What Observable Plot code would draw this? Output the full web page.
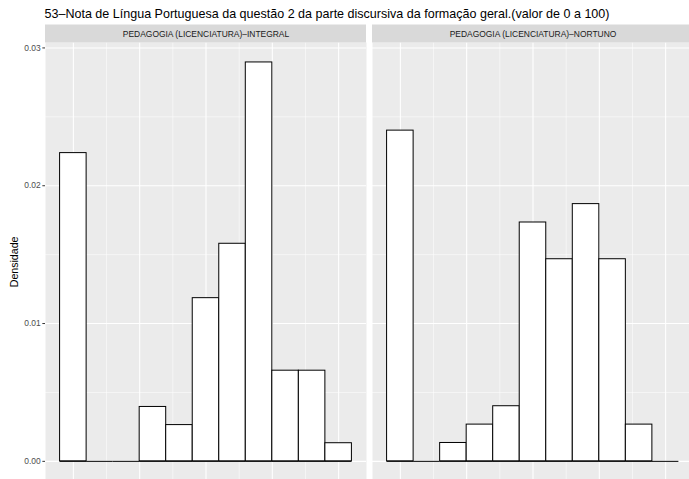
<!DOCTYPE html>
<html><head><meta charset="utf-8">
<script src="https://cdn.jsdelivr.net/npm/d3@7"></script>
<script src="https://cdn.jsdelivr.net/npm/@observablehq/plot@0.6"></script>
<style>html,body{margin:0;padding:0;overflow:hidden;background:#fff;width:689px;height:479px}</style>
</head><body><div id="chart"></div>
<script>
const titleText = "53–Nota de Língua Portuguesa da questão 2 da parte discursiva da formação geral.(valor de 0 a 100)";
const yLabel = "Densidade";
const stripPrefix = "PEDAGOGIA (LICENCIATURA)–";
const facets = ["INTEGRAL", "NORTUNO"];
const binCenters = [0, 10, 20, 30, 40, 50, 60, 70, 80, 90, 100];
const binWidth = 10;
const densityIntegral = [0.022368, 0, 0, 0.0039474, 0.0026316, 0.011842, 0.015789, 0.028947, 0.0065789, 0.0065789, 0.0013158];
const densityNortuno = [0.024, 0, 0.0013333, 0.0026667, 0.004, 0.017333, 0.014667, 0.018667, 0.014667, 0.0026667, 0];
const yTicks = [0, 0.01, 0.02, 0.03];
const yMinor = [0.005, 0.015, 0.025];
const xMajor = [0, 25, 50, 75, 100];
const xMinor = [12.5, 37.5, 62.5, 87.5];

const rows = [];
binCenters.forEach((c, i) => {
  rows.push({turno: facets[0], x: c, density: densityIntegral[i]});
  rows.push({turno: facets[1], x: c, density: densityNortuno[i]});
});
const xLo = binCenters[0] - binWidth / 2, xHi = binCenters[binCenters.length - 1] + binWidth / 2;
const xPad = (xHi - xLo) * 0.05;
const yMax = d3.max(rows, d => d.density);
const yPad = yMax * 0.05;

const chart = Plot.plot({
  width: 693.8, height: 480.8,
  marginLeft: 44.4, marginRight: 0, marginTop: 42, marginBottom: 0,
  style: {fontFamily: "'Liberation Sans', Arial, Helvetica, sans-serif", background: "white", maxWidth: "none", overflow: "hidden"},
  fx: {domain: facets, axis: null, paddingInner: 0.0183, paddingOuter: 0, label: null},
  x: {domain: [xLo - xPad, xHi + xPad], axis: null},
  y: {domain: [-yPad, yMax + yPad]},
  marks: [
    Plot.frame({fill: "#ebebeb", stroke: "none"}),
    Plot.ruleX(xMinor, {stroke: "white", strokeWidth: 0.53}),
    Plot.ruleY(yMinor, {stroke: "white", strokeWidth: 0.53}),
    Plot.ruleX(xMajor, {stroke: "white", strokeWidth: 1.07}),
    Plot.ruleY(yTicks, {stroke: "white", strokeWidth: 1.07}),
    Plot.rect(rows, {fx: "turno", x1: d => d.x - binWidth / 2, x2: d => d.x + binWidth / 2, y1: 0, y2: "density", fill: "white", stroke: "black", strokeWidth: 1, inset: 0}),
    Plot.ruleY(rows, {fx: "turno", x1: d => d.x - binWidth / 2, x2: d => d.x + binWidth / 2, y: 0, stroke: "black", strokeWidth: 1}),
    Plot.ruleY([yMax + yPad], {stroke: "#d9d9d9", strokeWidth: 18, dy: -9}),
    Plot.text(facets, {fx: d => d, text: d => stripPrefix + d, frameAnchor: "top", dy: -8.7, lineAnchor: "middle", fontSize: 8.45, fill: "#1a1a1a"}),
    Plot.text([titleText], {fx: () => facets[0], text: d => d, frameAnchor: "top-left", textAnchor: "start", lineAnchor: "bottom", dy: -24.7, dx: -1, fontSize: 12.55, fill: "black"}),
    Plot.text([yLabel], {fx: () => facets[0], text: d => d, frameAnchor: "left", textAnchor: "middle", rotate: -90, lineAnchor: "bottom", dx: -27.1, fontSize: 10.6, fill: "black"}),
    Plot.axisY(yTicks, {tickSize: 2.65, tickPadding: 2.1, fontSize: 8.45, fill: "#4d4d4d", stroke: "#333333", tickFormat: d => d.toFixed(2), label: null})
  ]
});
document.getElementById("chart").appendChild(chart);
</script></body></html>
